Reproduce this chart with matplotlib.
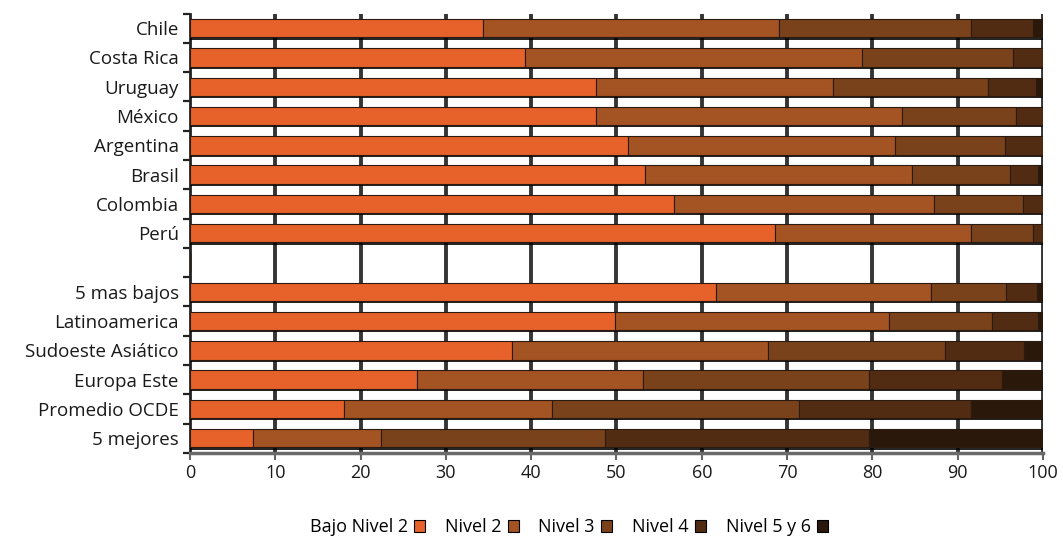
import numpy as np
import matplotlib
matplotlib.use("Agg")
import matplotlib.pyplot as plt
from matplotlib import patheffects as pe

plt.rcParams['font.family'] = ['Open Sans', 'DejaVu Sans']

# Rows from top to bottom; "" is an empty spacer row
categories = ["Chile", "Costa Rica", "Uruguay", "México", "Argentina", "Brasil",
              "Colombia", "Perú", "", "5 mas bajos", "Latinoamerica",
              "Sudoeste Asiático", "Europa Este", "Promedio OCDE", "5 mejores"]

levels = ["Bajo Nivel 2", "Nivel 2", "Nivel 3", "Nivel 4", "Nivel 5 y 6"]

bajo_nivel2 = [34.4, 39.3, 47.6, 47.6, 51.3, 53.4, 56.7, 68.6, 0, 61.7, 49.8, 37.7, 26.6, 18.0, 7.4]
nivel2      = [34.7, 39.5, 27.8, 35.9, 31.3, 31.3, 30.5, 22.9, 0, 25.2, 32.2, 30.1, 26.5, 24.4, 15.0]
nivel3      = [22.4, 17.7, 18.1, 13.3, 12.9, 11.4, 10.5, 7.3, 0, 8.8, 12.0, 20.7, 26.5, 29.0, 26.3]
nivel4      = [7.3, 3.5, 5.7, 3.2, 4.5, 3.3, 2.3, 1.2, 0, 3.6, 5.4, 9.3, 15.6, 20.1, 30.9]
nivel5y6    = [1.2, 0.0, 0.8, 0.0, 0.0, 0.6, 0.0, 0.0, 0, 0.7, 0.6, 2.2, 4.8, 8.5, 20.4]

series = [bajo_nivel2, nivel2, nivel3, nivel4, nivel5y6]
colors = ["#E6622A", "#A45322", "#7A421B", "#512C13", "#2A180B"]

fig = plt.figure(figsize=(10.63, 5.41), dpi=100)
ax = fig.add_axes([0.1787, 0.163, 0.8025, 0.812])

y = np.arange(len(categories))
left = np.zeros(len(categories))
shadow = [pe.SimplePatchShadow(offset=(0, -1.6), shadow_rgbFace="black", alpha=0.85), pe.Normal()]
handles = []
for vals, col, name in zip(series, colors, levels):
    vals = np.array(vals, dtype=float)
    bars = ax.barh(y, vals, left=left, height=0.63, color=col, edgecolor="#2a1a10",
                   linewidth=0.8, label=name, zorder=3)
    for b, v in zip(bars, vals):
        if v > 0:
            b.set_path_effects(shadow)
    handles.append(bars)
    left += vals

ax.set_xlim(0, 100)
ax.set_ylim(len(categories) - 0.5, -0.5)

# vertical gridlines
for gx in range(10, 101, 10):
    ax.axvline(gx, color="#353535", lw=2.8, zorder=1)

ax.set_yticks(y)
ax.set_yticklabels(categories, fontsize=13.5, color="#1a1a1a")
ax.set_yticks(np.arange(-0.5, len(categories), 1.0), minor=True)
ax.tick_params(axis="y", which="major", length=0, pad=8)
ax.tick_params(axis="y", which="minor", length=5, width=1.6, color="#222222", direction="out")

ax.set_xticks(np.arange(0, 101, 10))
ax.set_xticklabels([str(v) for v in range(0, 101, 10)], fontsize=13, color="#1a1a1a")
ax.tick_params(axis="x", length=5, width=1.5, color="#666666", pad=3)

for s in ["top", "right"]:
    ax.spines[s].set_visible(False)
ax.spines["left"].set_color("#222222")
ax.spines["left"].set_linewidth(2.0)
ax.spines["bottom"].set_color("#6a6a6a")
ax.spines["bottom"].set_linewidth(2.5)

leg = fig.legend(handles=handles, labels=levels, loc="center", bbox_to_anchor=(0.535, 0.025),
                 ncol=5, frameon=False, markerfirst=False, fontsize=13,
                 handlelength=0.6, handleheight=0.6, handletextpad=0.35, columnspacing=1.1)
for h in leg.legend_handles:
    h.set_path_effects([])
    h.set_edgecolor("black")

fig.savefig("out.png", dpi=100)
